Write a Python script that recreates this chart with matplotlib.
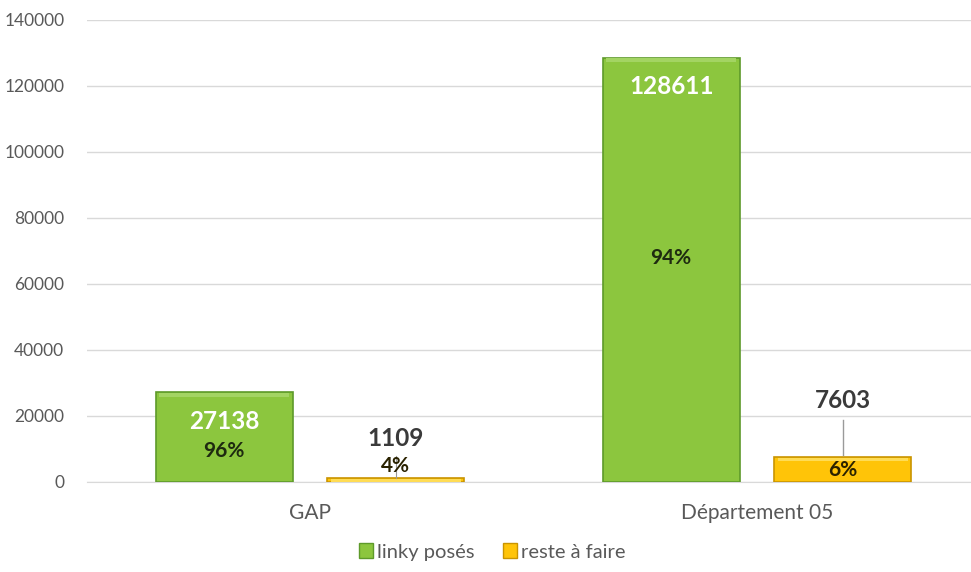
import matplotlib.pyplot as plt
import matplotlib.patches as mpatches
import numpy as np

# data
categories = ["GAP", "Département 05"]
linky_poses = [27138, 128611]
reste_a_faire = [1109, 7603]
pct_poses = ["96%", "94%"]
pct_reste = ["4%", "6%"]
series_names = ["linky posés", "reste à faire"]
yticks = [0, 20000, 40000, 60000, 80000, 100000, 120000, 140000]

plt.rcParams['font.family'] = ['Lato', 'DejaVu Sans']

green = "#8cc63e"
green_edge = "#5e9a2a"
yellow = "#ffc408"
yellow_edge = "#c99400"
grey_txt = "#595959"
dark_txt = "#3a3a3a"

fig = plt.figure(figsize=(9.71, 5.72), dpi=100)
ax = fig.add_axes([86.5 / 971, 90 / 572, (971 - 86.5) / 971, 462 / 572])

x = np.arange(len(categories))
w = 0.307
off = 0.192

b1 = ax.bar(x - off, linky_poses, w, color=green, edgecolor=green_edge, linewidth=1.2, zorder=3)
b2 = ax.bar(x + off, reste_a_faire, w, color=yellow, edgecolor=yellow_edge, linewidth=1.2, zorder=3)

# light bevel on top of bars
for bars, hi in ((b1, "#a3d463"), (b2, "#ffdc55")):
    for r in bars:
        ax.add_patch(mpatches.Rectangle((r.get_x() + 0.008, r.get_height() - 1300), r.get_width() - 0.016,
                                        1100, color=hi, lw=0, zorder=4))

ax.set_ylim(0, 140000)
ax.set_xlim(-0.5, 1.5 + (971 - 757) / 447 - 0.5)
ax.set_yticks(yticks)
ax.set_yticklabels([str(v) for v in yticks], color=grey_txt, fontsize=12.5)
ax.set_xticks(x)
ax.set_xticklabels(categories, color=grey_txt, fontsize=15)
ax.tick_params(length=0, pad=16)
ax.tick_params(axis='x', pad=15)
ax.grid(axis='y', color="#d9d9d9", lw=1, zorder=0)
for s in ax.spines.values():
    s.set_visible(False)
ax.spines['bottom'].set_visible(True)
ax.spines['bottom'].set_color("#d9d9d9")

# value labels inside green bars
for xi, v in zip(x, linky_poses):
    ax.annotate(str(v), (xi - off, v), xytext=(0, -21), textcoords="offset points",
                ha="center", va="center", color="white", fontsize=17.5, fontweight="bold", zorder=5)

# percent labels in green bars
pct_pos_green = [9400, 67900]
for xi, p, yy in zip(x, pct_poses, pct_pos_green):
    ax.text(xi - off, yy, p, ha="center", va="center", color="#1e2a10", fontsize=15,
            fontweight="bold", zorder=5)

# yellow value labels with leader lines
val_off_px = [40, 56]
for xi, v, o in zip(x, reste_a_faire, val_off_px):
    ax.annotate(str(v), (xi + off, v), xytext=(0, o * 0.72), textcoords="offset points",
                ha="center", va="center", color=dark_txt, fontsize=17.5, fontweight="bold", zorder=5)
ax.plot([x[1] + off] * 2, [8200, 18800], color="#9a9a9a", lw=1, zorder=5)
ax.plot([x[0] + off] * 2, [1100, 8000], color="#9a9a9a", lw=0.8, zorder=5)

pct_pos_yellow = [4850, 3600]
for xi, p, yy in zip(x, pct_reste, pct_pos_yellow):
    ax.text(xi + off, yy, p, ha="center", va="center", color="#2a2200", fontsize=15,
            fontweight="bold", zorder=6)

handles = [mpatches.Patch(facecolor=green, edgecolor=green_edge),
           mpatches.Patch(facecolor=yellow, edgecolor=yellow_edge)]
fig.legend(handles, series_names, loc="center", bbox_to_anchor=(492 / 971, 1 - 552 / 572),
           ncol=2, frameon=False, fontsize=14.5, handlelength=0.7, handleheight=0.7,
           handletextpad=0.2, columnspacing=1.4, labelcolor=grey_txt)

fig.savefig("out.png", dpi=100)
